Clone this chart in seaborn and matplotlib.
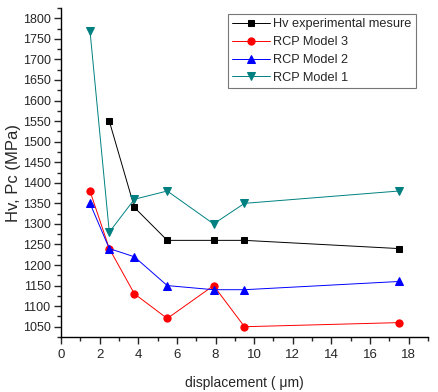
import matplotlib
matplotlib.use("Agg")
import matplotlib.pyplot as plt
from matplotlib.ticker import MultipleLocator
import seaborn as sns
import pandas as pd

sns.set_style("ticks")
plt.rcParams['font.family'] = ['Liberation Sans', 'DejaVu Sans']

x_exp = [2.5, 3.8, 5.5, 7.9, 9.5, 17.5]
hv_exp = [1550, 1340, 1260, 1260, 1260, 1240]
x_model = [1.5, 2.5, 3.8, 5.5, 7.9, 9.5, 17.5]
rcp3 = [1380, 1240, 1130, 1070, 1150, 1050, 1060]
rcp2 = [1350, 1240, 1220, 1150, 1140, 1140, 1160]
rcp1 = [1770, 1280, 1360, 1380, 1300, 1350, 1380]

series = [
    ("Hv experimental mesure", x_exp, hv_exp, "black", "s", 4.8),
    ("RCP Model 3", x_model, rcp3, "red", "o", 5.2),
    ("RCP Model 2", x_model, rcp2, "blue", "^", 5.8),
    ("RCP Model 1", x_model, rcp1, "#008080", "v", 5.8),
]

fig = plt.figure(figsize=(4.38, 3.92), dpi=100)
ax = fig.add_axes([61/438, 55/392, (428-61)/438, (337-8)/392])

for name, xs, ys, col, mk, ms in series:
    df = pd.DataFrame({"x": xs, "y": ys})
    sns.lineplot(data=df, x="x", y="y", ax=ax, color=col, marker=mk,
                 markersize=ms, markeredgecolor=col, linewidth=0.7,
                 label=name, sort=False)

ax.set_xlim(0, 19)
ax.set_ylim(1025, 1825)
ax.xaxis.set_major_locator(MultipleLocator(2))
ax.xaxis.set_minor_locator(MultipleLocator(1))
ax.yaxis.set_major_locator(MultipleLocator(50))
ax.yaxis.set_minor_locator(MultipleLocator(25))
ax.set_yticks(range(1050, 1801, 50))
ax.tick_params(axis='both', which='major', direction='out', length=5, width=1, labelsize=9.5)
ax.tick_params(axis='y', which='major', labelsize=9, pad=2.5)
ax.tick_params(axis='both', which='minor', direction='out', length=3, width=1)
sns.despine(ax=ax, top=True, right=True)
for s in ["left", "bottom"]:
    ax.spines[s].set_linewidth(1.0)
    ax.spines[s].set_color("black")

ax.set_xlabel("displacement ( μm)", fontsize=10, labelpad=11)
ax.set_ylabel("Hv, Pc (MPa)", fontsize=12, labelpad=1)

leg = ax.legend(loc="upper left", bbox_to_anchor=((228-61)/367, 1.0 - (14-8)/329),
                fontsize=9.2, frameon=True, fancybox=False, edgecolor="#555555",
                handlelength=2.9, handletextpad=0.3, borderpad=0.35,
                labelspacing=0.45, borderaxespad=0)
leg.get_frame().set_linewidth(0.8)

fig.savefig("out.png", dpi=100)
